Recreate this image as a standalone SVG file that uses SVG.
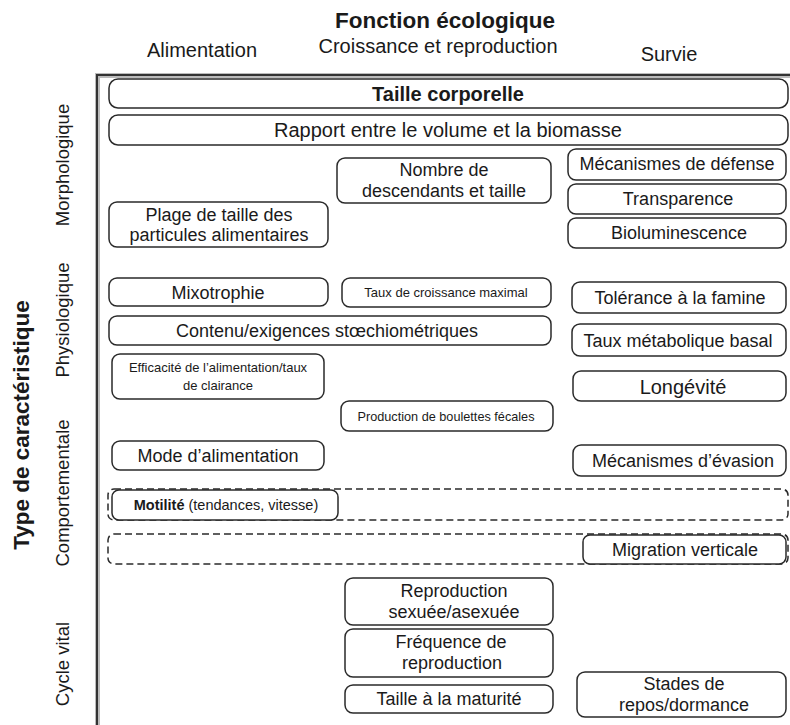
<svg xmlns="http://www.w3.org/2000/svg" width="790" height="725" viewBox="0 0 790 725">
<style>
text{font-family:"Liberation Sans",Arial,sans-serif;fill:#1a1a1a;text-anchor:middle}
.b{fill:#fff;stroke:#2a2a2a;stroke-width:1.5}
.d{fill:none;stroke:#2a2a2a;stroke-width:1.5;stroke-dasharray:7 4}
.h{font-size:20px}
.m{font-size:18px}
.s{font-size:13px}
.side{font-size:18.5px}
</style>
<rect width="790" height="725" fill="#fff"/>
<g id="titles">
<text x="445" y="28" font-size="22.5" font-weight="bold">Fonction écologique</text>
<text x="202" y="57" class="h">Alimentation</text>
<text x="438" y="53" class="h">Croissance et reproduction</text>
<text x="669" y="61" class="h">Survie</text>
<text transform="translate(29,425) rotate(-90)" font-size="22.5" font-weight="bold">Type de caractéristique</text>
<text transform="translate(69,165) rotate(-90)" class="side">Morphologique</text>
<text transform="translate(69,320) rotate(-90)" class="side">Physiologique</text>
<text transform="translate(69,493) rotate(-90)" class="side">Comportementale</text>
<text transform="translate(69,664) rotate(-90)" class="side">Cycle vital</text>
</g>
<g id="frame">
<path d="M97.5 725 V75.5 H790" fill="none" stroke="#bbb" stroke-width="5"/>
<path d="M97 725 V75 H790" fill="none" stroke="#333" stroke-width="2"/>
</g>
<g id="dashed">
<rect class="d" x="108" y="489" width="680" height="31" rx="6"/>
<rect class="d" x="108" y="534" width="680" height="30" rx="6"/>
</g>
<g id="taille-corporelle"><rect class="b" x="109" y="79" width="679" height="29" rx="9"/><text x="448" y="101" font-size="20" font-weight="bold">Taille corporelle</text></g>
<g id="rapport"><rect class="b" x="109" y="115" width="679" height="30" rx="9"/><text x="448" y="137" class="h">Rapport entre le volume et la biomasse</text></g>
<g id="nombre"><rect class="b" x="337" y="158" width="214" height="45" rx="8"/><text x="444" y="176" class="m">Nombre de</text><text x="444" y="197" class="m">descendants et taille</text></g>
<g id="defense"><rect class="b" x="568" y="149" width="218" height="31" rx="8"/><text x="677" y="170" class="m">Mécanismes de défense</text></g>
<g id="transparence"><rect class="b" x="568" y="184" width="218" height="30" rx="8"/><text x="678" y="205" class="m">Transparence</text></g>
<g id="bioluminescence"><rect class="b" x="568" y="218" width="218" height="30" rx="8"/><text x="679" y="239" class="m">Bioluminescence</text></g>
<g id="plage"><rect class="b" x="109" y="202" width="219" height="45" rx="8"/><text x="219" y="221" class="m">Plage de taille des</text><text x="219" y="241" class="m">particules alimentaires</text></g>
<g id="mixotrophie"><rect class="b" x="109" y="278" width="219" height="28" rx="8"/><text x="218" y="299" class="m">Mixotrophie</text></g>
<g id="taux-croissance"><rect class="b" x="342" y="278" width="209" height="29" rx="8"/><text x="446" y="297" class="s">Taux de croissance maximal</text></g>
<g id="contenu"><rect class="b" x="109" y="316" width="442" height="29" rx="8"/><text x="327" y="337" class="m">Contenu/exigences stœchiométriques</text></g>
<g id="famine"><rect class="b" x="572" y="282" width="214" height="31" rx="8"/><text x="680" y="304" class="m">Tolérance à la famine</text></g>
<g id="metabolique"><rect class="b" x="572" y="324" width="214" height="32" rx="8"/><text x="678" y="347" class="m">Taux  métabolique basal</text></g>
<g id="efficacite"><rect class="b" x="112" y="354" width="212" height="45" rx="8"/><text x="218" y="372" class="s">Efficacité de l’alimentation/taux</text><text x="218" y="390" class="s">de clairance</text></g>
<g id="longevite"><rect class="b" x="573" y="371" width="213" height="30" rx="8"/><text x="683" y="394" font-size="20">Longévité</text></g>
<g id="boulettes"><rect class="b" x="341" y="401" width="212" height="30" rx="8"/><text x="446" y="421" font-size="12.7">Production de boulettes fécales</text></g>
<g id="mode"><rect class="b" x="112" y="441" width="212" height="29" rx="8"/><text x="218" y="462" class="m">Mode d’alimentation</text></g>
<g id="evasion"><rect class="b" x="573" y="445" width="213" height="31" rx="8"/><text x="683" y="467" class="m">Mécanismes d’évasion</text></g>
<g id="motilite"><rect class="b" x="112" y="490" width="226" height="30" rx="7"/><text x="226" y="510" font-size="14.5"><tspan font-weight="bold">Motilité</tspan>  (tendances, vitesse)</text></g>
<g id="migration"><rect class="b" x="583" y="535" width="203" height="29" rx="7"/><text x="685" y="556" class="m">Migration verticale</text></g>
<g id="reproduction"><rect class="b" x="345" y="578" width="208" height="47" rx="8"/><text x="454" y="597" class="m">Reproduction</text><text x="454" y="618" class="m">sexuée/asexuée</text></g>
<g id="frequence"><rect class="b" x="345" y="629" width="208" height="48" rx="8"/><text x="451" y="648" class="m">Fréquence de</text><text x="452" y="669" class="m">reproduction</text></g>
<g id="maturite"><rect class="b" x="345" y="685" width="208" height="28" rx="8"/><text x="449" y="705" class="m">Taille à la maturité</text></g>
<g id="repos"><rect class="b" x="577" y="672" width="209" height="45" rx="8"/><text x="684" y="690" class="m">Stades de</text><text x="684" y="711" class="m">repos/dormance</text></g>
<g id="connectors"></g>
</svg>
